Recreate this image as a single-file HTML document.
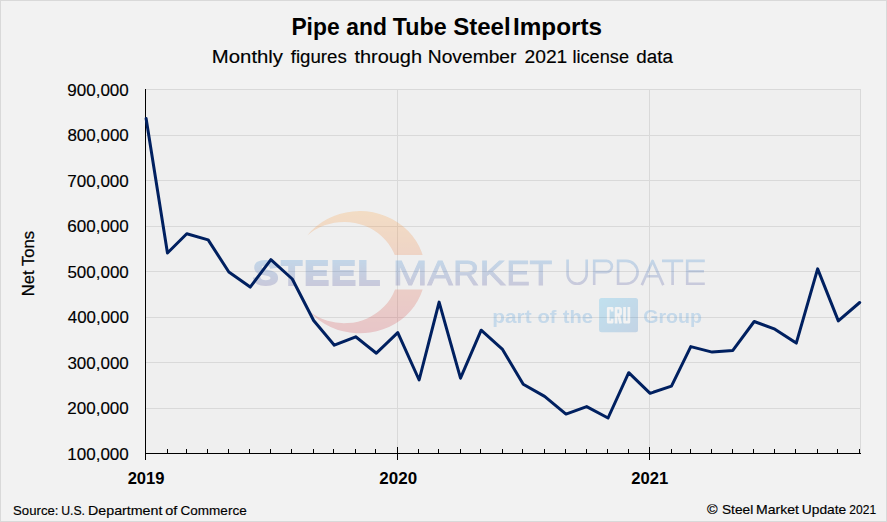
<!DOCTYPE html>
<html><head><meta charset="utf-8"><style>
html,body{margin:0;padding:0;background:#f2f2f2;}
svg{display:block;}
text{font-family:"Liberation Sans",sans-serif;}
</style></head><body>
<svg width="887" height="522" viewBox="0 0 887 522">
<defs>
<linearGradient id="gc" x1="0" y1="0" x2="0" y2="1"><stop offset="0" stop-color="#fba343"/><stop offset="1" stop-color="#cf4753"/></linearGradient>
<linearGradient id="gt" x1="0" y1="0" x2="0" y2="1"><stop offset="0" stop-color="#3b8bd3"/><stop offset="1" stop-color="#53539b"/></linearGradient>
<linearGradient id="gb" x1="0" y1="0" x2="1" y2="1"><stop offset="0" stop-color="#33b3eb"/><stop offset="1" stop-color="#3f7fc3"/></linearGradient>
<linearGradient id="gu" gradientUnits="userSpaceOnUse" x1="0" y1="259" x2="0" y2="286"><stop offset="0" stop-color="#3b8bd3"/><stop offset="1" stop-color="#53539b"/></linearGradient>
<linearGradient id="gw" gradientUnits="userSpaceOnUse" x1="0" y1="-25.5" x2="0" y2="1.5"><stop offset="0" stop-color="#3b8bd3"/><stop offset="1" stop-color="#53539b"/></linearGradient>
<clipPath id="cgap"><rect x="0" y="0" width="887" height="255"/><rect x="0" y="289.5" width="887" height="232"/></clipPath>
</defs>
<rect x="0.5" y="0.5" width="886" height="521" fill="#f2f2f2" stroke="#d9d9d9" stroke-width="1"/>
<rect x="146" y="89" width="715" height="364" fill="#efefef"/>
<g stroke="#d9d9d9" stroke-width="1" shape-rendering="crispEdges">
<line x1="146" y1="89.5" x2="861" y2="89.5"/><line x1="146" y1="135.5" x2="861" y2="135.5"/><line x1="146" y1="180.5" x2="861" y2="180.5"/><line x1="146" y1="226.5" x2="861" y2="226.5"/><line x1="146" y1="271.5" x2="861" y2="271.5"/><line x1="146" y1="317.5" x2="861" y2="317.5"/><line x1="146" y1="362.5" x2="861" y2="362.5"/><line x1="146" y1="408.5" x2="861" y2="408.5"/>
<line x1="397.5" y1="89" x2="397.5" y2="453"/>
<line x1="649.5" y1="89" x2="649.5" y2="453"/>
<line x1="860.5" y1="89" x2="860.5" y2="453"/>
</g>
<g opacity="0.25">
<path clip-path="url(#cgap)" fill="url(#gc)" d="M307.2,235.6 A65.6,61.15 0 1 1 309.5,311.5 A54,50.65 0 1 0 307.2,235.6 Z"/>
<rect x="599.1" y="298.1" width="38.9" height="34.2" rx="2.5" fill="url(#gb)"/>
<text transform="translate(253.05,284.5) scale(1.0782,1)" font-size="35.4" font-weight="bold" fill="url(#gw)" stroke="url(#gw)" stroke-width="2">S</text>
<text transform="translate(281.16,284.5) scale(0.9624,1)" font-size="35.4" font-weight="bold" fill="url(#gw)" stroke="url(#gw)" stroke-width="2">T</text>
<text transform="translate(304.20,284.5) scale(1.0492,1)" font-size="35.4" font-weight="bold" fill="url(#gw)" stroke="url(#gw)" stroke-width="2">E</text>
<text transform="translate(330.99,284.5) scale(1.0543,1)" font-size="35.4" font-weight="bold" fill="url(#gw)" stroke="url(#gw)" stroke-width="2">E</text>
<text transform="translate(357.85,284.5) scale(1.0302,1)" font-size="35.4" font-weight="bold" fill="url(#gw)" stroke="url(#gw)" stroke-width="2">L</text>
<text transform="translate(392.71,284.5) scale(1.1772,1)" font-size="35.5" fill="url(#gw)" stroke="url(#gw)" stroke-width="0.9">M</text>
<text transform="translate(427.45,284.5) scale(1.0670,1)" font-size="35.5" fill="url(#gw)" stroke="url(#gw)" stroke-width="0.9">A</text>
<text transform="translate(452.93,284.5) scale(1.0265,1)" font-size="35.5" fill="url(#gw)" stroke="url(#gw)" stroke-width="0.9">R</text>
<text transform="translate(479.51,284.5) scale(1.1070,1)" font-size="35.5" fill="url(#gw)" stroke="url(#gw)" stroke-width="0.9">K</text>
<text transform="translate(506.22,284.5) scale(0.9963,1)" font-size="35.5" fill="url(#gw)" stroke="url(#gw)" stroke-width="0.9">E</text>
<text transform="translate(529.61,284.5) scale(1.0477,1)" font-size="35.5" fill="url(#gw)" stroke="url(#gw)" stroke-width="0.9">T</text>
<text transform="translate(492.24,323) scale(1.1259,1)" font-size="18.5" font-weight="bold" fill="#4797db">part</text>
<text transform="translate(537.39,323) scale(1.0931,1)" font-size="18.5" font-weight="bold" fill="#4797db">of</text>
<text transform="translate(562.70,323) scale(1.0885,1)" font-size="18.5" font-weight="bold" fill="#4797db">the</text>
<text transform="translate(643.22,323) scale(1.0589,1)" font-size="18.5" font-weight="bold" fill="#4797db">Group</text>
<g fill="none" stroke="#ffffff" stroke-width="2.7" stroke-linejoin="round">
<path d="M612.1,311.6 V308.25 H608.25 V322.15 H612.1 V318.8"/>
<path d="M616.05,323.5 V308.25 H619.2 Q620.55,308.25 620.55,309.6 V313.2 Q620.55,314.6 619.2,314.6 H616.05 M618.6,314.6 L620.6,323.5"/>
<path d="M624.55,306.9 V322.15 H628.85 V306.9"/>
</g>
<g fill="none" stroke="url(#gu)" stroke-width="2.6" stroke-linecap="butt" stroke-linejoin="miter">
<path d="M567.6,259.6 V274.25 A9.55,9.55 0 0 0 586.7,274.25 V259.6"/>
<path d="M594.2,285.1 V260.9 H606.3 A5.6,5.6 0 0 1 606.3,272.1 H594.2"/>
<path d="M618.1,260.9 H626.15 A11.45,11.45 0 0 1 626.15,283.8 H618.1 Z"/>
<path stroke-linejoin="round" d="M641.8,285.1 L652.55,260.9 L663.3,285.1 M645.6,276.3 H659.5"/>
<path d="M662,260.9 H683.2 M672.6,260.9 V285.1"/>
<path d="M704.8,260.9 H687.2 V283.8 H704.8 M687.2,271.3 H704"/>
</g>
</g>
<g stroke="#000" stroke-width="1" shape-rendering="crispEdges">
<line x1="145.5" y1="89" x2="145.5" y2="454"/>
<line x1="145" y1="453.5" x2="861" y2="453.5"/>
<line x1="145.5" y1="453" x2="145.5" y2="460"/><line x1="167.5" y1="449" x2="167.5" y2="453"/><line x1="186.5" y1="449" x2="186.5" y2="453"/><line x1="207.5" y1="449" x2="207.5" y2="453"/><line x1="228.5" y1="449" x2="228.5" y2="453"/><line x1="249.5" y1="449" x2="249.5" y2="453"/><line x1="270.5" y1="449" x2="270.5" y2="453"/><line x1="291.5" y1="449" x2="291.5" y2="453"/><line x1="313.5" y1="449" x2="313.5" y2="453"/><line x1="333.5" y1="449" x2="333.5" y2="453"/><line x1="355.5" y1="449" x2="355.5" y2="453"/><line x1="375.5" y1="449" x2="375.5" y2="453"/><line x1="397.5" y1="447" x2="397.5" y2="460"/><line x1="418.5" y1="449" x2="418.5" y2="453"/><line x1="438.5" y1="449" x2="438.5" y2="453"/><line x1="460.5" y1="449" x2="460.5" y2="453"/><line x1="480.5" y1="449" x2="480.5" y2="453"/><line x1="502.5" y1="449" x2="502.5" y2="453"/><line x1="522.5" y1="449" x2="522.5" y2="453"/><line x1="544.5" y1="449" x2="544.5" y2="453"/><line x1="565.5" y1="449" x2="565.5" y2="453"/><line x1="586.5" y1="449" x2="586.5" y2="453"/><line x1="607.5" y1="449" x2="607.5" y2="453"/><line x1="628.5" y1="449" x2="628.5" y2="453"/><line x1="649.5" y1="447" x2="649.5" y2="460"/><line x1="671.5" y1="449" x2="671.5" y2="453"/><line x1="690.5" y1="449" x2="690.5" y2="453"/><line x1="711.5" y1="449" x2="711.5" y2="453"/><line x1="732.5" y1="449" x2="732.5" y2="453"/><line x1="753.5" y1="449" x2="753.5" y2="453"/><line x1="774.5" y1="449" x2="774.5" y2="453"/><line x1="795.5" y1="449" x2="795.5" y2="453"/><line x1="817.5" y1="449" x2="817.5" y2="453"/><line x1="837.5" y1="449" x2="837.5" y2="453"/><line x1="859.5" y1="449" x2="859.5" y2="453"/>
</g>
<polyline fill="none" stroke="#002060" stroke-width="3" stroke-linejoin="round" stroke-linecap="round" points="146.10,118.60 167.47,253.00 186.78,233.80 208.15,239.90 228.84,272.00 250.21,287.10 270.89,259.70 292.27,279.00 313.64,320.50 334.32,345.20 355.70,336.80 376.38,353.20 397.76,332.60 419.13,380.00 439.12,302.10 460.50,378.20 481.18,330.20 502.55,349.40 523.24,384.30 544.61,396.40 565.99,414.10 586.67,406.60 608.04,418.00 628.73,372.70 650.10,393.30 671.47,386.20 690.78,346.60 712.15,352.10 732.84,350.40 754.21,321.50 774.89,329.20 796.27,343.10 817.64,268.90 838.32,320.90 859.70,302.50"/>
<g fill="#000">
<text transform="translate(291.40,34.9) scale(0.9321,1)" font-size="24.5" font-weight="bold">Pipe</text>
<text transform="translate(346.32,34.9) scale(0.9305,1)" font-size="24.5" font-weight="bold">and</text>
<text transform="translate(392.87,34.9) scale(0.9494,1)" font-size="24.5" font-weight="bold">Tube</text>
<text transform="translate(453.18,34.9) scale(0.9803,1)" font-size="24.5" font-weight="bold">Steel</text>
<text transform="translate(513.00,34.9) scale(0.9911,1)" font-size="24.5" font-weight="bold">Imports</text>
<text transform="translate(211.82,62.8) scale(1.0825,1)" font-size="18.8" stroke="#000" stroke-width="0.15">Monthly</text>
<text transform="translate(290.76,62.8) scale(0.9919,1)" font-size="18.8" stroke="#000" stroke-width="0.15">figures</text>
<text transform="translate(354.45,62.8) scale(1.0606,1)" font-size="18.8" stroke="#000" stroke-width="0.15">through</text>
<text transform="translate(427.81,62.8) scale(1.0226,1)" font-size="18.8" stroke="#000" stroke-width="0.15">November</text>
<text transform="translate(524.49,62.8) scale(1.0237,1)" font-size="18.8" stroke="#000" stroke-width="0.15">2021</text>
<text transform="translate(572.48,62.8) scale(0.9663,1)" font-size="18.8" stroke="#000" stroke-width="0.15">license</text>
<text transform="translate(636.30,62.8) scale(0.9998,1)" font-size="18.8" stroke="#000" stroke-width="0.15">data</text>
<text transform="translate(13.09,514.9) scale(1.0462,1)" font-size="12.6" stroke="#000" stroke-width="0.15">Source:</text>
<text transform="translate(61.17,514.9) scale(0.9730,1)" font-size="12.6" stroke="#000" stroke-width="0.15">U.S.</text>
<text transform="translate(88.01,514.9) scale(1.1318,1)" font-size="12.6" stroke="#000" stroke-width="0.15">Department</text>
<text transform="translate(165.27,514.9) scale(1.1453,1)" font-size="12.6" stroke="#000" stroke-width="0.15">of</text>
<text transform="translate(180.57,514.9) scale(1.0737,1)" font-size="12.6" stroke="#000" stroke-width="0.15">Commerce</text>
<text transform="translate(707.06,513.8) scale(1.1451,1)" font-size="12.6" stroke="#000" stroke-width="0.15">©</text>
<text transform="translate(721.96,513.8) scale(1.0876,1)" font-size="12.6" stroke="#000" stroke-width="0.15">Steel</text>
<text transform="translate(756.03,513.8) scale(1.1143,1)" font-size="12.6" stroke="#000" stroke-width="0.15">Market</text>
<text transform="translate(801.75,513.8) scale(1.0958,1)" font-size="12.6" stroke="#000" stroke-width="0.15">Update</text>
<text transform="translate(849.35,513.8) scale(0.9546,1)" font-size="12.6" stroke="#000" stroke-width="0.15">2021</text>
<text transform="translate(127.65,483.7) scale(0.9807,1)" font-size="16.9" font-weight="bold">2019</text>
<text transform="translate(379.34,483.7) scale(1.0045,1)" font-size="16.9" font-weight="bold">2020</text>
<text transform="translate(631.35,483.7) scale(0.9844,1)" font-size="16.9" font-weight="bold">2021</text>
<text transform="translate(67.25,95.6) scale(1.0207,1)" font-size="16.7" stroke="#000" stroke-width="0.15">900,000</text>
<text transform="translate(67.42,141.1) scale(1.0178,1)" font-size="16.7" stroke="#000" stroke-width="0.15">800,000</text>
<text transform="translate(67.25,186.6) scale(1.0207,1)" font-size="16.7" stroke="#000" stroke-width="0.15">700,000</text>
<text transform="translate(67.25,232.1) scale(1.0207,1)" font-size="16.7" stroke="#000" stroke-width="0.15">600,000</text>
<text transform="translate(67.42,277.6) scale(1.0178,1)" font-size="16.7" stroke="#000" stroke-width="0.15">500,000</text>
<text transform="translate(67.76,323.1) scale(1.0121,1)" font-size="16.7" stroke="#000" stroke-width="0.15">400,000</text>
<text transform="translate(67.42,368.6) scale(1.0178,1)" font-size="16.7" stroke="#000" stroke-width="0.15">300,000</text>
<text transform="translate(67.25,414.1) scale(1.0207,1)" font-size="16.7" stroke="#000" stroke-width="0.15">200,000</text>
<text transform="translate(67.24,459.6) scale(1.0209,1)" font-size="16.7" stroke="#000" stroke-width="0.15">100,000</text>
</g>
<text transform="translate(34,296.2) rotate(-90)" font-size="17" stroke="#000" stroke-width="0.25" textLength="65.2" lengthAdjust="spacingAndGlyphs">Net Tons</text>
</svg>
</body></html>
